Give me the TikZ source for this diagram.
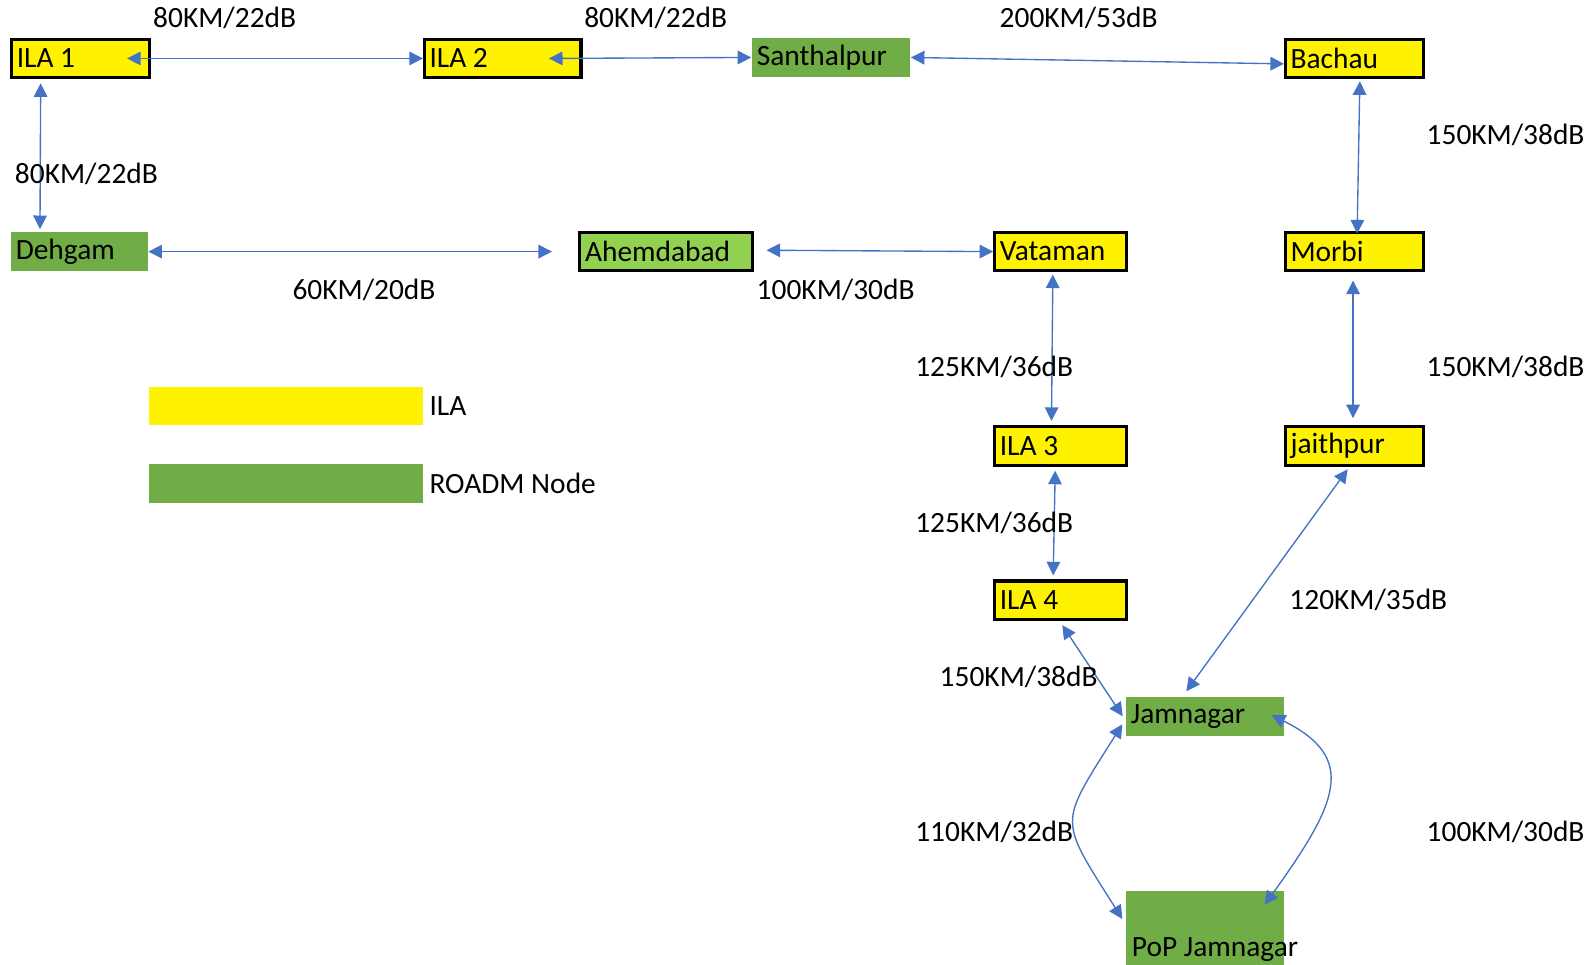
\documentclass[tikz,border=0pt]{standalone}
\usepackage{fontspec}
\setmainfont{Carlito}
\usetikzlibrary{arrows.meta,positioning}

\definecolor{roadmgreen}{RGB}{112,173,71}
\definecolor{lightgreen}{RGB}{146,208,80}
\definecolor{linkblue}{RGB}{68,114,196}

\tikzset{every picture/.style={line width=0.75pt}}
\tikzset{
	ilabox/.style={draw=black, line width=2.25pt, fill=yellow, anchor=north west, align=flush left, minimum height=28.5pt, inner xsep=3.75pt, inner ysep=0pt},
	roadmbox/.style={fill=roadmgreen, anchor=north west, align=flush left, minimum height=28.5pt, inner xsep=3.75pt, inner ysep=0pt},
	link/.style={draw=linkblue, line width=1pt, {Triangle[length=10pt,width=10pt]}-{Triangle[length=10pt,width=10pt]}},
}

\begin{document}
\begin{tikzpicture}[x=0.75pt,y=0.75pt,yscale=-1,xscale=1, font=\fontsize{21.7}{26}\selectfont]
	\useasboundingbox (0,0) rectangle (1568,949);

	%Shape: ILA boxes
	\node[ilabox, text width=94.5pt] (ila1) at (10,37) {ILA 1};
	\node[ilabox, text width=108pt] (ila2) at (416,37) {ILA 2};
	\node[ilabox, text width=94.5pt] (bachau) at (1263,37) {Bachau};
	\node[ilabox, text width=90pt] (vataman) at (977,227) {Vataman};
	\node[ilabox, text width=94.5pt] (morbi) at (1263,227) {Morbi};
	\node[ilabox, text width=90pt] (ila3) at (977,418) {ILA 3};
	\node[ilabox, text width=94.5pt] (jaithpur) at (1263,418) {jaithpur};
	\node[ilabox, text width=90pt] (ila4) at (977,570) {ILA 4};
	%Shape: ROADM boxes
	\node[roadmbox, text width=109.5pt] (santhalpur) at (739,37) {Santhalpur};
	\node[roadmbox, text width=93.75pt] (dehgam) at (10,228) {Dehgam};
	\node[roadmbox, draw=black, line width=2.25pt, fill=lightgreen, text width=120pt] (ahemdabad) at (569,227) {Ahemdabad};
	\node[roadmbox, text width=109.5pt] (jamnagar) at (1107,685) {Jamnagar};
	\node[roadmbox, minimum width=117pt, minimum height=54.75pt] (pop) at (1107,876) {};
	\node[anchor=base west, inner xsep=4.5pt] (poptext) at ([yshift=-6.75pt]pop.south west) {PoP Jamnagar};

	%Shape: legend
	\node[fill=yellow, anchor=north west, minimum width=202.5pt, minimum height=28.5pt] (keyila) at (146,380) {};
	\node[right=0pt of keyila, inner xsep=3.75pt] (keyilatext) {ILA};
	\node[fill=roadmgreen, anchor=north west, minimum width=202.5pt, minimum height=28.5pt] (keyroadm) at (146,456) {};
	\node[right=0pt of keyroadm, inner xsep=3.75pt] (keyroadmtext) {ROADM Node};

	%Straight Lines
	\draw[link] ([xshift=-18pt]ila1.east) -- (ila2.west);
	\draw[link] ([xshift=-24.75pt]ila2.east) -- (santhalpur.west);
	\draw[link] (santhalpur.east) -- ([yshift=4pt]bachau.west);
	\draw[link] ([xshift=22.5pt,yshift=3pt]ila1.south west) -- ([xshift=22pt,yshift=-2pt]dehgam.north west);
	\draw[link] (dehgam.east) -- ([xshift=-19.5pt]ahemdabad.west);
	\draw[link] ([xshift=9pt,yshift=-1pt]ahemdabad.east) -- (vataman.west);
	\draw[link] ([xshift=56pt,yshift=1.5pt]bachau.south west) -- ([xshift=54pt,yshift=2pt]morbi.north west);
	\draw[link] ([xshift=44pt,yshift=1.5pt]vataman.south west) -- ([xshift=43pt,yshift=-3pt]ila3.north west);
	\draw[link] ([xshift=51pt,yshift=6pt]morbi.south west) -- ([xshift=51pt,yshift=-5pt]jaithpur.north west);
	\draw[link] ([xshift=45.75pt,yshift=3pt]ila3.south west) -- ([xshift=44.25pt,yshift=-3pt]ila4.north west);
	\draw[link] ([xshift=47pt,yshift=2pt]jaithpur.south west) -- ([xshift=45pt,yshift=-3.75pt]jamnagar.north west);
	\draw[link] ([xshift=51pt,yshift=3pt]ila4.south west) -- ([xshift=-2pt]jamnagar.west);
	%Curve Lines
	\draw[link] ([xshift=-2.25pt,yshift=6pt]jamnagar.west) .. controls +(-63,100) and +(-63,-100) .. ([xshift=-2.25pt,yshift=21pt]pop.north west);
	\draw[link] ([xshift=-9.75pt,yshift=-0.75pt]jamnagar.east) .. controls +(85,42) and +(72,-100) .. ([xshift=-15pt,yshift=10.5pt]pop.north east);

	% Text Node
	\draw (221,18) node (lab12) {80KM/22dB};
	% Text Node
	\draw (645,18) node (lab2s) {80KM/22dB};
	% Text Node
	\draw (1061,18) node (labsb) {200KM/53dB};
	% Text Node
	\draw (85,171) node (lab1d) {80KM/22dB};
	% Text Node
	\draw (1481,133) node (labbm) {150KM/38dB};
	% Text Node
	\draw (358,285) node (labda) {60KM/20dB};
	% Text Node
	\draw (822,285) node (labav) {100KM/30dB};
	% Text Node
	\draw (978,361) node (labv3) {125KM/36dB};
	% Text Node
	\draw (1481,361) node (labmj) {150KM/38dB};
	% Text Node
	\draw (978,514) node (lab34) {125KM/36dB};
	% Text Node
	\draw (1346,590) node (labjj) {120KM/35dB};
	% Text Node
	\draw (1002,666) node (lab4j) {150KM/38dB};
	% Text Node
	\draw (978,818) node (labjpl) {110KM/32dB};
	% Text Node
	\draw (1481,818) node (labjpr) {100KM/30dB};

\end{tikzpicture}
\end{document}
